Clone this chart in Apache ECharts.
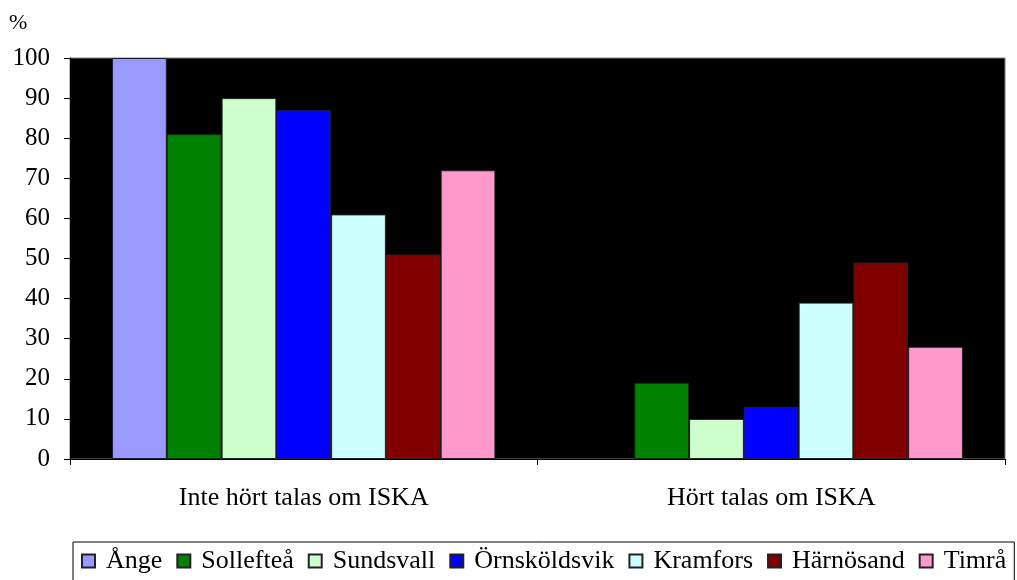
<!DOCTYPE html>
<html><head><meta charset="utf-8">
<script src="https://cdn.jsdelivr.net/npm/echarts@6/dist/echarts.min.js"></script>
<style>html,body{margin:0;padding:0;background:#fff}#c{width:1017px;height:580px}</style>
</head><body><div id="c"></div>
<script>
const categories = ['Inte hört talas om ISKA', 'Hört talas om ISKA'];
const seriesNames = ['Ånge', 'Sollefteå', 'Sundsvall', 'Örnsköldsvik', 'Kramfors', 'Härnösand', 'Timrå'];
const angeValues = [100, 0];
const solleftea = [81, 19];
const sundsvall = [90, 10];
const ornskoldsvik = [87, 13];
const kramfors = [61, 39];
const harnosand = [51, 49];
const timra = [72, 28];
const yTicks = [0, 10, 20, 30, 40, 50, 60, 70, 80, 90, 100];
const colors = ['#9999FF', '#008000', '#CCFFCC', '#0000FF', '#CCFFFF', '#800000', '#FF99CC'];
const allValues = [angeValues, solleftea, sundsvall, ornskoldsvik, kramfors, harnosand, timra];

const font = 'Liberation Serif';
const chart = echarts.init(document.getElementById('c'), null, {renderer: 'canvas'});
chart.setOption({
  animation: false,
  textStyle: {fontFamily: font, color: '#000'},
  graphic: [{type: 'text', left: 9, top: 12, style: {text: '%', fontFamily: font, fontSize: 22, fill: '#000'}}],
  grid: {left: 70, right: 12, top: 58, bottom: 121, show: true, backgroundColor: '#000', borderColor: '#808080', borderWidth: 1},
  legend: {
    left: 73, top: 542, data: seriesNames,
    itemWidth: 13, itemHeight: 13, itemGap: 14, icon: 'rect',
    borderColor: '#000', borderWidth: 1, padding: [6, 8, 12, 8],
    textStyle: {fontFamily: font, fontSize: 26, color: '#000', padding: [0, 0, 0, 6]}
  },
  xAxis: {
    type: 'category', data: categories,
    axisLine: {lineStyle: {color: '#000', width: 1}},
    axisTick: {show: true, length: 6, lineStyle: {color: '#000'}},
    axisLabel: {fontFamily: font, fontSize: 26, color: '#000', margin: 26}
  },
  yAxis: {
    type: 'value', min: 0, max: 100, interval: 10,
    axisLine: {show: true, lineStyle: {color: '#000', width: 1}},
    axisTick: {show: true, length: 6, lineStyle: {color: '#000'}},
    splitLine: {show: false},
    axisLabel: {fontFamily: font, fontSize: 25, color: '#000', margin: 20,
      formatter: v => yTicks.includes(v) ? String(v) : ''}
  },
  series: seriesNames.map((n, i) => ({
    name: n, type: 'bar',
    data: allValues[i].map(v => ({value: v, itemStyle: {borderWidth: v === 0 ? 0 : 1}})),
    barGap: 0, barCategoryGap: '18%',
    itemStyle: {color: colors[i], borderColor: '#222', borderWidth: 1}
  }))
});
</script></body></html>
